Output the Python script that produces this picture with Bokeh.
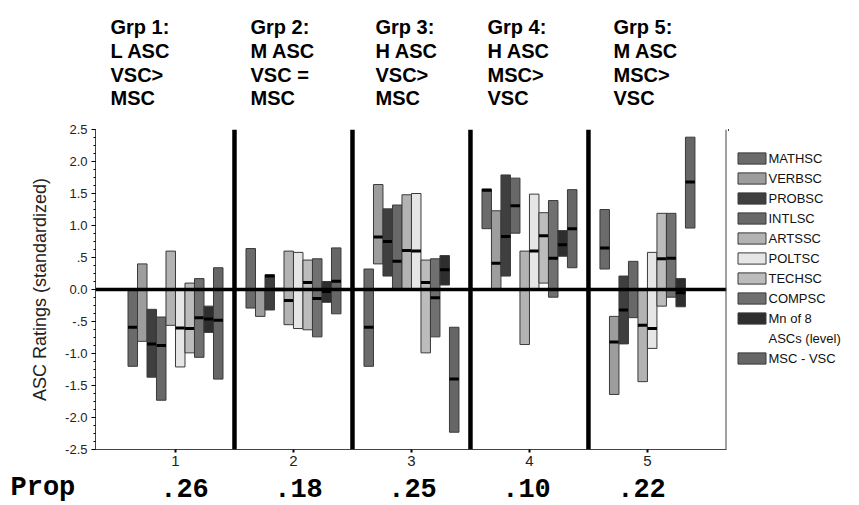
import numpy as np
from bokeh.plotting import figure
from bokeh.layouts import column, row
from bokeh.models import (Span, Legend, LegendItem, FixedTicker, Range1d,
                          ColumnDataSource)
from bokeh.core.properties import value
from bokeh.embed import file_html
from bokeh.resources import INLINE

# ---------------- data ----------------
groups = [1, 2, 3, 4, 5]
group_titles = [
    ["Grp 1:", "L ASC", "VSC>", "MSC"],
    ["Grp 2:", "M ASC", "VSC =", "MSC"],
    ["Grp 3:", "H ASC", "VSC>", "MSC"],
    ["Grp 4:", "H ASC", "MSC>", "VSC"],
    ["Grp 5:", "M ASC", "MSC>", "VSC"],
]
prop_label = "Prop"
prop_values = [".26", ".18", ".25", ".10", ".22"]

series_names = ["MATHSC", "VERBSC", "PROBSC", "INTLSC", "ARTSSC",
                "POLTSC", "TECHSC", "COMPSC", "Mn of 8", "MSC - VSC"]
series_colors = ["#6b6b6b", "#9d9d9d", "#3f3f3f", "#686868", "#b3b3b3",
                 "#e6e6e6", "#bcbcbc", "#707070", "#2e2e2e", "#666666"]

# low / high / mean of each series for groups 1..5 (None = mean not shown)
mathsc_lo = [-1.20, -0.29, -1.20, 0.95, 0.32]
mathsc_hi = [0.00, 0.64, 0.32, 1.57, 1.25]
mathsc_mn = [-0.59, None, -0.59, 1.55, 0.65]

verbsc_lo = [-0.81, -0.42, 0.40, 0.00, -1.64]
verbsc_hi = [0.40, 0.00, 1.64, 1.23, -0.42]
verbsc_mn = [None, None, 0.82, 0.41, -0.82]

probsc_lo = [-1.37, -0.32, 0.21, 0.21, -0.85]
probsc_hi = [-0.31, 0.23, 1.26, 1.79, 0.21]
probsc_mn = [-0.85, 0.21, 0.75, 0.83, -0.32]

intlsc_lo = [-1.73, -0.02, 0.00, 0.88, -0.44]
intlsc_hi = [-0.43, 0.02, 1.32, 1.74, 0.44]
intlsc_mn = [-0.875, None, 0.44, 1.31, None]

artssc_lo = [-0.56, -0.55, 0.00, -0.86, -1.44]
artssc_hi = [0.60, 0.60, 1.48, 0.60, 0.00]
artssc_mn = [None, -0.17, 0.61, None, -0.56]

poltsc_lo = [-1.21, -0.61, 0.00, 0.00, -0.92]
poltsc_hi = [0.00, 0.58, 1.50, 1.49, 0.58]
poltsc_mn = [-0.60, None, 0.60, 0.60, -0.61]

techsc_lo = [-0.99, -0.63, -0.99, 0.10, -0.26]
techsc_hi = [0.10, 0.46, 0.46, 1.20, 1.19]
techsc_mn = [-0.61, 0.11, 0.11, 0.84, 0.48]

compsc_lo = [-1.06, -0.74, -0.74, -0.12, -0.12]
compsc_hi = [0.17, 0.48, 0.48, 1.39, 1.19]
compsc_mn = [-0.44, -0.14, -0.13, 0.49, 0.49]

mn8_lo = [-0.67, -0.20, 0.07, 0.52, -0.27]
mn8_hi = [-0.26, 0.125, 0.53, 0.92, 0.17]
mn8_mn = [-0.46, -0.03, 0.31, 0.70, -0.05]

mscvsc_lo = [-1.40, -0.38, -2.23, 0.34, 0.96]
mscvsc_hi = [0.34, 0.65, -0.59, 1.56, 2.38]
mscvsc_mn = [-0.48, 0.13, -1.40, 0.95, 1.68]

y_tick_values = [2.5, 2.0, 1.5, 1.0, 0.5, 0.0, -0.5, -1.0, -1.5, -2.0, -2.5]
y_tick_labels = ["2.5", "2.0", "1.5", "1.0", ".5", "0.0", "-.5", "-1.0", "-1.5", "-2.0", "-2.5"]
y_axis_title = "ASC Ratings (standardized)"

series_lo = [mathsc_lo, verbsc_lo, probsc_lo, intlsc_lo, artssc_lo,
             poltsc_lo, techsc_lo, compsc_lo, mn8_lo, mscvsc_lo]
series_hi = [mathsc_hi, verbsc_hi, probsc_hi, intlsc_hi, artssc_hi,
             poltsc_hi, techsc_hi, compsc_hi, mn8_hi, mscvsc_hi]
series_mn = [mathsc_mn, verbsc_mn, probsc_mn, intlsc_mn, artssc_mn,
             poltsc_mn, techsc_mn, compsc_mn, mn8_mn, mscvsc_mn]

# ---------------- layout sizes ----------------
TOTAL_W = 859
TOP_H = 121
MAIN_H = 351
BOT_H = 505 - TOP_H - MAIN_H
MAIN_W = 728
LEG_W = TOTAL_W - MAIN_W
FONT = "Liberation Sans"
MONO = "Liberation Mono"
X_START, X_END = 0.322, 5.67


def blank_fig(w, h):
    f = figure(width=w, height=h, output_backend="svg", toolbar_location=None,
               x_range=Range1d(0, w), y_range=Range1d(h, 0),
               x_axis_location=None, y_axis_location=None,
               min_border=0, min_border_left=0, min_border_right=0,
               min_border_top=0, min_border_bottom=0)
    f.outline_line_color = None
    f.xgrid.visible = False
    f.ygrid.visible = False
    f.background_fill_color = "white"
    f.border_fill_color = "white"
    return f


# ---------------- top: group titles ----------------
top = blank_fig(TOTAL_W, TOP_H)
title_x = [110, 250, 375, 487, 613]
title_y = [26, 50, 74, 97]
tx, ty, tt = [], [], []
for gx, lines in zip(title_x, group_titles):
    for yy, line in zip(title_y, lines):
        tx.append(gx)
        ty.append(yy)
        tt.append(line)
top.text(x=tx, y=ty, text=tt, text_font=value(FONT), text_font_style="bold",
         text_font_size="20px", text_baseline="middle", text_align="left",
         text_color="black")

# ---------------- main chart ----------------
p = figure(width=MAIN_W, height=MAIN_H, output_backend="svg", toolbar_location=None,
           x_range=Range1d(X_START, X_END), y_range=Range1d(-2.5, 2.5),
           min_border_left=95, min_border_right=2,
           min_border_top=8, min_border_bottom=23)
p.outline_line_color = None
p.xgrid.visible = False
p.ygrid.visible = False
p.background_fill_color = "white"
p.border_fill_color = "white"

slot = 0.0805
n = len(series_names)
g = np.array(groups, dtype=float)
for i in range(n):
    xs = g + (i - (n - 1) / 2) * slot
    lo = np.array(series_lo[i], dtype=float)
    hi = np.array(series_hi[i], dtype=float)
    mn = np.array([np.nan if v is None else v for v in series_mn[i]], dtype=float)
    src = ColumnDataSource(dict(x=xs, top=hi, bottom=lo))
    p.vbar(x="x", top="top", bottom="bottom", width=slot, source=src,
           fill_color=series_colors[i], line_color="#3a3a3a", line_width=1)
    msrc = ColumnDataSource(dict(x0=xs - slot / 2, x1=xs + slot / 2, y=mn))
    p.segment(x0="x0", x1="x1", y0="y", y1="y", source=msrc,
              line_color="black", line_width=3)

p.add_layout(Span(location=0, dimension="width", line_color="black", line_width=3.5))
for k in range(len(groups) - 1):
    p.add_layout(Span(location=(groups[k] + groups[k + 1]) / 2, dimension="height",
                      line_color="black", line_width=4.5))
p.add_layout(Span(location=X_END, dimension="height", line_color="#444444", line_width=2))

p.xaxis.ticker = FixedTicker(ticks=groups)
p.xaxis.major_label_text_font = FONT
p.xaxis.major_label_text_font_size = "15px"
p.xaxis.major_label_text_color = "#222222"
p.xaxis.major_tick_in = 0
p.xaxis.major_tick_out = 3
p.xaxis.major_tick_line_width = 2
p.xaxis.minor_tick_line_color = None
p.xaxis.major_label_standoff = 3
p.xaxis.axis_line_color = "#444444"

minor = list(np.round(np.arange(-2.5, 2.5001, 0.125), 4))
p.yaxis.ticker = FixedTicker(ticks=y_tick_values, minor_ticks=minor)
p.yaxis.major_label_overrides = {v: s for v, s in zip(y_tick_values, y_tick_labels)}
p.yaxis.major_label_text_font = FONT
p.yaxis.major_label_text_font_size = "13px"
p.yaxis.major_label_text_color = "#222222"
p.yaxis.major_tick_in = 0
p.yaxis.major_tick_out = 4
p.yaxis.minor_tick_in = 0
p.yaxis.minor_tick_out = 2
p.yaxis.major_label_standoff = 4
p.yaxis.axis_line_color = "#444444"
p.yaxis.axis_label = y_axis_title
p.yaxis.axis_label_text_font = FONT
p.yaxis.axis_label_text_font_size = "18px"
p.yaxis.axis_label_text_font_style = "normal"
p.yaxis.axis_label_text_color = "#222222"
p.yaxis.axis_label_standoff = 12

# ---------------- legend panel ----------------
leg = blank_fig(LEG_W, MAIN_H)
items = []
for i, name in enumerate(series_names):
    # one off-screen point so that the legend swatch is drawn
    r = leg.vbar(x=[-1000], top=[1], bottom=[0], width=1, fill_color=series_colors[i],
                 line_color="#3a3a3a", line_width=1)
    items.append(LegendItem(label=name, renderers=[r]))
    if name == "Mn of 8":
        d = leg.vbar(x=[-1000], top=[1], bottom=[0], width=1, fill_alpha=0, line_alpha=0)
        items.append(LegendItem(label="ASCs (level)", renderers=[d]))
legend = Legend(items=items, location=(5.5, 81), orientation="vertical",
                glyph_width=35, glyph_height=14, label_height=20, spacing=0,
                padding=0, margin=0, label_standoff=0,
                label_text_font=FONT, label_text_font_size="13px",
                label_text_color="#111111", border_line_color=None,
                background_fill_alpha=0)
leg.add_layout(legend)

# ---------------- bottom: proportion row ----------------
bot = blank_fig(TOTAL_W, BOT_H)
prop_x = [184, 298, 412, 526, 641]
bot.text(x=[10], y=[15.5], text=[prop_label], text_font=value(MONO), text_font_style="bold",
         text_font_size="27px", text_baseline="middle", text_align="left",
         text_color="black")
bot.text(x=prop_x, y=[15.5] * len(prop_x), text=prop_values, text_font=value(MONO),
         text_font_style="bold", text_font_size="27px", text_baseline="middle",
         text_align="center", text_color="black")

layout = column(top, row(p, leg, spacing=0), bot, spacing=0)
open("out.html", "w").write(file_html(layout, INLINE))
